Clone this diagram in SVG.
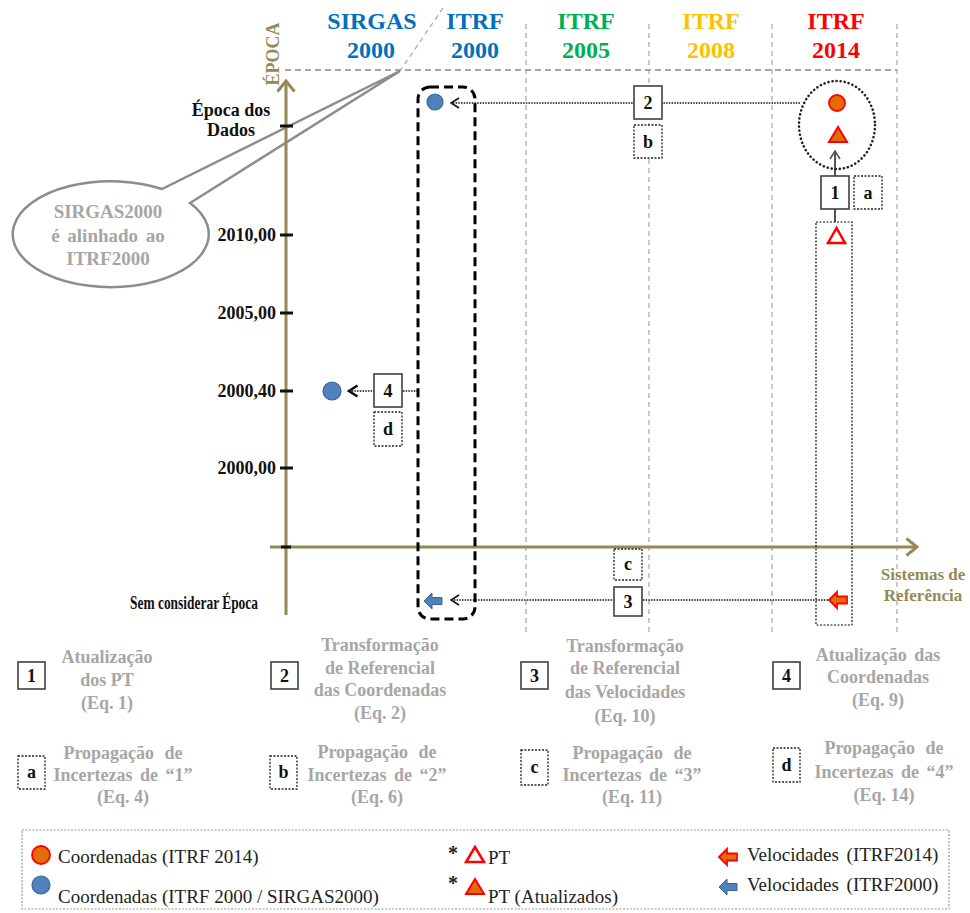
<svg xmlns="http://www.w3.org/2000/svg" width="970" height="913" viewBox="0 0 970 913">
<style>
text { font-family: "Liberation Serif", "Times New Roman", serif; }
.hdr { font-size: 24px; font-weight: bold; text-anchor: middle; }
.ax { font-size: 18px; font-weight: bold; fill: #111; }
.olive { fill: #948A54; font-weight: bold; }
.desc { font-size: 18px; font-weight: bold; fill: #A6A6A6; text-anchor: middle; }
.leg { font-size: 19px; fill: #222; }
.grid { stroke: #A6A6A6; stroke-width: 1.2; stroke-dasharray: 5 4; fill: none; }
.box { fill: #fff; stroke: #404040; stroke-width: 1.6; }
.dbox { fill: #fff; stroke: #222; stroke-width: 1.3; stroke-dasharray: 2 1.5; }
.lbl { font-size: 18px; font-weight: bold; text-anchor: middle; fill: #111; }
.dot { stroke: #111; stroke-width: 1.6; stroke-dasharray: 1.5 1.2; fill: none; }
.bc { fill: #4F81BD; stroke: #3A6596; stroke-width: 1.2; }
.oc { fill: #E36C09; stroke: #FF0000; stroke-width: 1.8; }
.ft { fill: #E36C09; stroke: #FF0000; stroke-width: 2; }
.ot { fill: #fff; stroke: #FF0000; stroke-width: 2.5; }
.ba { fill: #4F81BD; stroke: #3A6596; stroke-width: 1; }
.ra { fill: #E36C09; stroke: #FF0000; stroke-width: 1.8; }
.tick { stroke: #111; stroke-width: 3; }
</style>
<defs>
<marker id="chev" viewBox="0 0 10 12" refX="9" refY="6" markerWidth="10" markerHeight="12" markerUnits="userSpaceOnUse" orient="auto">
<path d="M1,1 L9,6 L1,11" fill="none" stroke="#111" stroke-width="1.6"/>
</marker>
<marker id="chevBold" viewBox="0 0 12 14" refX="10" refY="7" markerWidth="12" markerHeight="14" markerUnits="userSpaceOnUse" orient="auto">
<path d="M1.5,1.5 L10,7 L1.5,12.5" fill="none" stroke="#111" stroke-width="2.6"/>
</marker>
<marker id="chevGray" viewBox="0 0 10 12" refX="9" refY="6" markerWidth="10" markerHeight="12" markerUnits="userSpaceOnUse" orient="auto">
<path d="M1,1 L9,6 L1,11" fill="none" stroke="#555" stroke-width="1.6"/>
</marker>
<marker id="axArrow" viewBox="0 0 14 20" refX="12" refY="10" markerWidth="14" markerHeight="20" markerUnits="userSpaceOnUse" orient="auto">
<path d="M1.5,1.5 L12,10 L1.5,18.5" fill="none" stroke="#948A54" stroke-width="3"/>
</marker>
</defs>

<!-- grid / column headers -->
<g id="grid">
<line x1="285" y1="70" x2="897" y2="70" stroke="#A6A6A6" stroke-width="2" stroke-dasharray="6 4"/>
<line x1="443" y1="8" x2="400" y2="71" class="grid"/>
<line x1="526" y1="24" x2="526" y2="635" class="grid"/>
<line x1="649" y1="24" x2="649" y2="635" class="grid"/>
<line x1="772" y1="24" x2="772" y2="635" class="grid"/>
<line x1="897" y1="24" x2="897" y2="635" class="grid"/>
</g>
<g id="headers">
<text class="hdr" x="372" y="29" fill="#0070C0">SIRGAS</text>
<text class="hdr" x="371" y="58" fill="#0070C0">2000</text>
<text class="hdr" x="475" y="29" fill="#0070C0">ITRF</text>
<text class="hdr" x="475" y="58" fill="#0070C0">2000</text>
<text class="hdr" x="586" y="29" fill="#00B050">ITRF</text>
<text class="hdr" x="586" y="58" fill="#00B050">2005</text>
<text class="hdr" x="711" y="29" fill="#FFC000">ITRF</text>
<text class="hdr" x="711" y="58" fill="#FFC000">2008</text>
<text class="hdr" x="836" y="29" fill="#FF0000">ITRF</text>
<text class="hdr" x="836" y="58" fill="#FF0000">2014</text>
</g>

<!-- callout -->
<g id="callout">
<path d="M190,203 A98,53 0 1 1 162,189 L400,71 Z" fill="#fff" stroke="#8C8C8C" stroke-width="2.5" stroke-linejoin="miter"/>
<text x="108" y="218" font-size="19" font-weight="bold" fill="#A6A6A6" text-anchor="middle">SIRGAS2000</text>
<text x="108" y="242" font-size="19" font-weight="bold" fill="#A6A6A6" text-anchor="middle" word-spacing="3">é alinhado ao</text>
<text x="108" y="265" font-size="19" font-weight="bold" fill="#A6A6A6" text-anchor="middle">ITRF2000</text>
</g>

<!-- axes -->
<g id="axes">
<line x1="286" y1="615" x2="286" y2="81" stroke="#948A54" stroke-width="3" marker-end="url(#axArrow)"/>
<line x1="270" y1="547" x2="917" y2="547" stroke="#948A54" stroke-width="3" marker-end="url(#axArrow)"/>
<text class="olive" font-size="18" text-anchor="middle" transform="translate(279,54) rotate(-90)">ÉPOCA</text>
<text class="olive" font-size="17" text-anchor="middle" x="923" y="580">Sistemas de</text>
<text class="olive" font-size="17" text-anchor="middle" x="923" y="601">Referência</text>
<line class="tick" x1="280" y1="126" x2="293" y2="126"/>
<line class="tick" x1="280" y1="235" x2="293" y2="235"/>
<line class="tick" x1="280" y1="313" x2="293" y2="313"/>
<line class="tick" x1="280" y1="391" x2="293" y2="391"/>
<line class="tick" x1="280" y1="468" x2="293" y2="468"/>
<line class="tick" x1="281" y1="547" x2="291" y2="547"/>
<text class="ax" x="231" y="116" text-anchor="middle">Época dos</text>
<text class="ax" x="231" y="136" text-anchor="middle">Dados</text>
<text class="ax" x="276" y="241" text-anchor="end">2010,00</text>
<text class="ax" x="276" y="319" text-anchor="end">2005,00</text>
<text class="ax" x="276" y="397" text-anchor="end">2000,40</text>
<text class="ax" x="276" y="474" text-anchor="end">2000,00</text>
<text class="ax" x="258" y="609" text-anchor="end" font-size="17" textLength="128" lengthAdjust="spacingAndGlyphs">Sem considerar Época</text>
</g>

<!-- connectors -->
<g id="connectors">
<line class="dot" x1="800" y1="103" x2="451" y2="103" marker-end="url(#chev)"/>
<line class="dot" x1="828" y1="600" x2="451" y2="600" marker-end="url(#chev)"/>
<line class="dot" x1="418" y1="391" x2="349" y2="391" marker-end="url(#chevBold)"/>
<line x1="835" y1="222" x2="835" y2="151" stroke="#555" stroke-width="2" marker-end="url(#chevGray)"/>
</g>

<!-- ITRF2000 column group -->
<g id="itrf2000-group">
<rect x="418" y="87" width="57" height="532" rx="12" fill="none" stroke="#000" stroke-width="3" stroke-dasharray="9 5"/>
</g>
<g id="coord-itrf2000">
<circle class="bc" cx="435" cy="102" r="8"/>
</g>
<g id="vel-itrf2000">
<path class="ba" d="M424,601 L432,593 L432,597.5 L442,597.5 L442,604.5 L432,604.5 L432,609 Z"/>
</g>
<g id="coord-sirgas2000">
<circle class="bc" cx="332" cy="391" r="9"/>
</g>

<!-- ITRF2014 -->
<g id="itrf2014-updated">
<ellipse cx="837" cy="125" rx="38" ry="44" fill="none" stroke="#222" stroke-width="2.6" stroke-dasharray="0.1 4" stroke-linecap="round"/>
<circle class="oc" cx="837" cy="103" r="8"/>
<polygon class="ft" points="838,127 829,142 847,142"/>
</g>
<g id="itrf2014-pt">
<rect x="816" y="222" width="36" height="403" fill="none" stroke="#111" stroke-width="1.2" stroke-dasharray="2 1.5"/>
<polygon class="ot" points="836.5,228 828,243 845,243"/>
<path class="ra" d="M829,600 L837,592 L837,596.5 L847,596.5 L847,603.5 L837,603.5 L837,608 Z"/>
</g>

<!-- step boxes -->
<g id="step1"><rect class="box" x="821" y="176" width="28" height="33"/><text class="lbl" x="835" y="199">1</text></g>
<g id="step-a"><rect class="dbox" x="854" y="176" width="28" height="33"/><text class="lbl" x="868" y="199">a</text></g>
<g id="step2"><rect class="box" x="634" y="86" width="28" height="33"/><text class="lbl" x="648" y="109">2</text></g>
<g id="step-b"><rect class="dbox" x="634" y="125" width="28" height="33"/><text class="lbl" x="648" y="148">b</text></g>
<g id="step3"><rect class="box" x="614" y="587" width="28" height="29"/><text class="lbl" x="628" y="608">3</text></g>
<g id="step-c"><rect class="dbox" x="614" y="549" width="28" height="31"/><text class="lbl" x="628" y="570">c</text></g>
<g id="step4"><rect class="box" x="374" y="374" width="28" height="33"/><text class="lbl" x="388" y="397">4</text></g>
<g id="step-d"><rect class="dbox" x="374" y="412" width="28" height="34"/><text class="lbl" x="388" y="435">d</text></g>

<!-- descriptions -->
<g id="desc1">
<rect class="box" x="18" y="662" width="27" height="27"/><text class="lbl" x="31.5" y="682">1</text>
<text class="desc" x="107" y="663">Atualização</text>
<text class="desc" x="107" y="686">dos PT</text>
<text class="desc" x="107" y="709">(Eq. 1)</text>
</g>
<g id="desc2">
<rect class="box" x="271" y="662" width="27" height="27"/><text class="lbl" x="284.5" y="682">2</text>
<text class="desc" x="380" y="651">Transformação</text>
<text class="desc" x="380" y="674">de Referencial</text>
<text class="desc" x="380" y="696">das Coordenadas</text>
<text class="desc" x="380" y="719">(Eq. 2)</text>
</g>
<g id="desc3">
<rect class="box" x="521" y="662" width="27" height="27"/><text class="lbl" x="534.5" y="682">3</text>
<text class="desc" x="625" y="652">Transformação</text>
<text class="desc" x="625" y="674">de Referencial</text>
<text class="desc" x="625" y="698">das Velocidades</text>
<text class="desc" x="625" y="722">(Eq. 10)</text>
</g>
<g id="desc4">
<rect class="box" x="773" y="662" width="27" height="27"/><text class="lbl" x="786.5" y="682">4</text>
<text class="desc" x="878" y="661" word-spacing="3">Atualização das</text>
<text class="desc" x="878" y="683">Coordenadas</text>
<text class="desc" x="878" y="706">(Eq. 9)</text>
</g>
<g id="desc-a">
<rect class="dbox" x="18" y="756" width="27" height="33"/><text class="lbl" x="31.5" y="778">a</text>
<text class="desc" x="123" y="759" word-spacing="6">Propagação de</text>
<text class="desc" x="123" y="781" word-spacing="3">Incertezas de “1”</text>
<text class="desc" x="123" y="803">(Eq. 4)</text>
</g>
<g id="desc-b">
<rect class="dbox" x="270" y="756" width="27" height="33"/><text class="lbl" x="283.5" y="778">b</text>
<text class="desc" x="377" y="758" word-spacing="6">Propagação de</text>
<text class="desc" x="377" y="781" word-spacing="3">Incertezas de “2”</text>
<text class="desc" x="377" y="803">(Eq. 6)</text>
</g>
<g id="desc-c">
<rect class="dbox" x="521" y="750" width="27" height="35"/><text class="lbl" x="534.5" y="773">c</text>
<text class="desc" x="632" y="759" word-spacing="6">Propagação de</text>
<text class="desc" x="632" y="781" word-spacing="3">Incertezas de “3”</text>
<text class="desc" x="632" y="803">(Eq. 11)</text>
</g>
<g id="desc-d">
<rect class="dbox" x="773" y="748" width="27" height="34"/><text class="lbl" x="786.5" y="771">d</text>
<text class="desc" x="884" y="754" word-spacing="6">Propagação de</text>
<text class="desc" x="884" y="778" word-spacing="3">Incertezas de “4”</text>
<text class="desc" x="884" y="801">(Eq. 14)</text>
</g>

<!-- legend -->
<g id="legend">
<rect x="22" y="830" width="927" height="79" fill="none" stroke="#999" stroke-width="1.2" stroke-dasharray="2 1.5"/>
<circle class="oc" cx="41" cy="855" r="9"/>
<text class="leg" x="58" y="863">Coordenadas (ITRF 2014)</text>
<circle class="bc" cx="41" cy="885" r="9"/>
<text class="leg" x="58" y="903">Coordenadas (ITRF 2000 / SIRGAS2000)</text>
<text x="448" y="860" font-size="20" font-weight="bold" fill="#222">*</text>
<polygon class="ot" points="475,847 466,862 484,862"/>
<text class="leg" x="488" y="864">PT</text>
<text x="448" y="890" font-size="20" font-weight="bold" fill="#222">*</text>
<polygon class="ft" points="475,879 466,894 484,894"/>
<text class="leg" x="488" y="903">PT (Atualizados)</text>
<path class="ra" d="M719,857 L727,849 L727,853.5 L737,853.5 L737,860.5 L727,860.5 L727,865 Z"/>
<text class="leg" x="747" y="861" word-spacing="3">Velocidades (ITRF2014)</text>
<path class="ba" d="M719,887 L727,879 L727,883.5 L737,883.5 L737,890.5 L727,890.5 L727,895 Z"/>
<text class="leg" x="747" y="891" word-spacing="3">Velocidades (ITRF2000)</text>
</g>
</svg>
